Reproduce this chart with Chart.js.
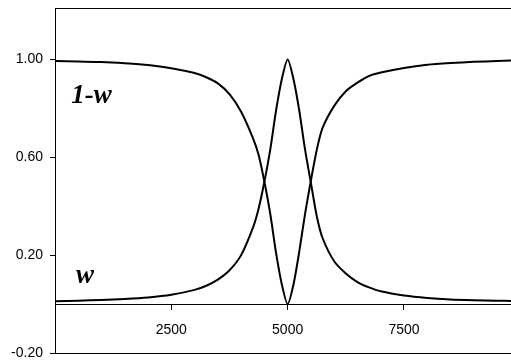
<!DOCTYPE html>
<html>
<head>
<meta charset="utf-8">
<script src="https://cdn.jsdelivr.net/npm/chart.js@4.4.0/dist/chart.umd.min.js"></script>
<style>
  html, body { margin: 0; padding: 0; background: #fff; }
  #wrap { width: 511px; height: 364px; }
</style>
</head>
<body>
<div id="wrap"><canvas id="myChart"></canvas></div>
<script>
// x positions of the samples
const xValues = [0, 500, 1000, 1500, 2000, 2500, 3000, 3250, 3500, 3750, 4000, 4250, 4375, 4500,
  4625, 4750, 4875, 5000, 5125, 5250, 5375, 5500, 5625, 5750, 6000, 6250, 6500, 6750, 7000,
  7500, 8000, 8500, 9000, 9500, 9800];

// w curve
const wValues = [0.012, 0.014, 0.017, 0.021, 0.027, 0.038, 0.058, 0.075, 0.100, 0.138, 0.200, 0.310, 0.390, 0.500,
  0.630, 0.790, 0.920, 1.000, 0.920, 0.790, 0.630, 0.495, 0.360, 0.270, 0.175, 0.125, 0.090, 0.068, 0.052,
  0.035, 0.025, 0.019, 0.016, 0.014, 0.013];

// 1-w curve
const oneMinusW = [0.993, 0.991, 0.989, 0.984, 0.977, 0.964, 0.944, 0.927, 0.902, 0.858, 0.786, 0.680, 0.610, 0.500,
  0.370, 0.210, 0.080, 0.000, 0.080, 0.215, 0.370, 0.505, 0.630, 0.720, 0.810, 0.870, 0.905, 0.932, 0.946,
  0.965, 0.978, 0.985, 0.990, 0.993, 0.995];

const xTicks = [2500, 5000, 7500];
const yTicks = [-0.2, 0.2, 0.6, 1.0];

const curveLabels = ["1-w", "w"];

const canvas = document.getElementById("myChart");

function toPoints(ys) {
  return xValues.map((x, i) => ({ x: x, y: ys[i] }));
}

// top and bottom lines of the frame + curve names
const framePlugin = {
  id: "frame",
  afterDraw(chart) {
    const { ctx, chartArea, scales } = chart;
    ctx.save();
    ctx.strokeStyle = "#000";
    ctx.lineWidth = 1;
    ctx.beginPath();
    ctx.moveTo(chartArea.left, chartArea.top + 0.5);
    ctx.lineTo(chartArea.right, chartArea.top + 0.5);
    ctx.moveTo(chartArea.left, chartArea.bottom + 0.5);
    ctx.lineTo(chartArea.right, chartArea.bottom + 0.5);
    ctx.stroke();

    ctx.fillStyle = "#000";
    ctx.font = 'bold italic 27px "Liberation Serif"';
    ctx.textBaseline = "alphabetic";
    ctx.fillText(curveLabels[0], scales.x.getPixelForValue(350), scales.y.getPixelForValue(0.82));
    ctx.fillText(curveLabels[1], scales.x.getPixelForValue(450), scales.y.getPixelForValue(0.086));
    ctx.restore();
  }
};

const lineStyle = {
  borderColor: "#000",
  borderWidth: 2,
  pointRadius: 0,
  fill: false,
  tension: 0.25
};

new Chart(canvas, {
  type: "line",
  data: {
    datasets: [
      Object.assign({ label: "w", data: toPoints(wValues) }, lineStyle),
      Object.assign({ label: "1-w", data: toPoints(oneMinusW) }, lineStyle)
    ]
  },
  options: {
    responsive: true,
    maintainAspectRatio: false,
    animation: false,
    layout: { padding: { top: 8, left: 10, right: 0, bottom: 11 } },
    plugins: {
      legend: { display: false },
      tooltip: { enabled: false }
    },
    scales: {
      x: {
        type: "linear",
        min: 0,
        max: 9800,
        position: { y: 0 },
        afterBuildTicks: (scale) => { scale.ticks = xTicks.map(v => ({ value: v })); },
        grid: { drawOnChartArea: false, drawTicks: true, tickLength: 5, color: "#000" },
        border: { display: true, color: "#000", width: 1 },
        ticks: {
          color: "#000",
          font: { family: "Liberation Sans", size: 14 },
          padding: 13,
          maxRotation: 0,
          callback: (v) => String(v)
        }
      },
      y: {
        min: -0.2,
        max: 1.21,
        afterBuildTicks: (scale) => { scale.ticks = yTicks.map(v => ({ value: v })); },
        afterFit: (scale) => {
          scale.width = 45;
          scale.paddingTop = 0;
          scale.paddingBottom = 0;
        },
        grid: { drawOnChartArea: false, drawTicks: true, tickLength: 5, color: "#000" },
        border: { display: true, color: "#000", width: 1 },
        ticks: {
          color: "#000",
          font: { family: "Liberation Sans", size: 14 },
          padding: 7,
          callback: (v) => v.toFixed(2)
        }
      }
    }
  },
  plugins: [framePlugin]
});
</script>
</body>
</html>
